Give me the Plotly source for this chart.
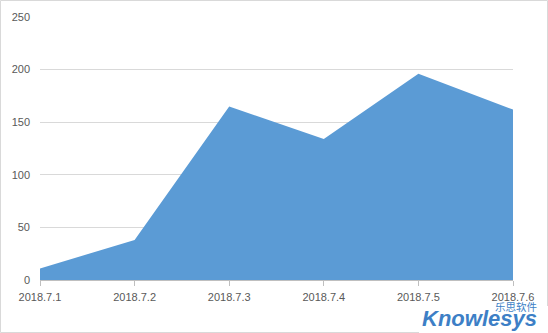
import plotly.graph_objects as go

categories = ["2018.7.1", "2018.7.2", "2018.7.3", "2018.7.4", "2018.7.5", "2018.7.6"]
values = [11, 38, 165, 134, 196, 162]
y_ticks = [0, 50, 100, 150, 200, 250]

W, H = 548, 333
ML, MR, MT, MB = 40, 35, 17, 53
PW, PH = W - ML - MR, H - MT - MB

def px_to_paper_x(px):
    return (px - ML) / PW

def px_to_paper_y(py):
    return (H - MB - py) / PH

fig = go.Figure()
fig.add_trace(go.Scatter(
    x=categories, y=values, mode="lines", fill="tozeroy",
    line=dict(color="#5B9BD5", width=0), fillcolor="#5B9BD5",
    hoverinfo="x+y", showlegend=False,
))

fig.update_layout(
    width=W, height=H,
    margin=dict(l=ML, r=MR, t=MT, b=MB),
    paper_bgcolor="white", plot_bgcolor="white",
    font=dict(family="Liberation Sans, Arial, sans-serif", size=11, color="#595959"),
    xaxis=dict(
        type="category", range=[0, len(categories) - 1],
        showgrid=False, showline=True, linecolor="#BFBFBF", linewidth=1,
        ticks="outside", ticklen=5, tickcolor="#BFBFBF",
        ticklabelstandoff=2,
        tickfont=dict(size=11, color="#595959"), zeroline=False,
    ),
    yaxis=dict(
        range=[0, 250], tickvals=y_ticks,
        showgrid=True, gridcolor="#D9D9D9", gridwidth=1,
        showline=False, zeroline=False, ticks="", ticklen=0,
        ticklabelstandoff=9,
        tickfont=dict(size=11, color="#595959"),
    ),
    shapes=[
        dict(type="rect", xref="paper", yref="paper",
             x0=px_to_paper_x(0.5), x1=px_to_paper_x(W - 0.5),
             y0=px_to_paper_y(H - 0.5), y1=px_to_paper_y(0.5),
             line=dict(color="#D9D9D9", width=1), fillcolor="rgba(0,0,0,0)", layer="below"),
        dict(type="rect", xref="paper", yref="paper",
             x0=px_to_paper_x(419), x1=px_to_paper_x(W + 2),
             y0=px_to_paper_y(H + 2), y1=px_to_paper_y(306),
             line=dict(width=0), fillcolor="white", layer="above"),
    ],
    annotations=[
        dict(text="<b><i>Knowlesys</i></b>", xref="paper", yref="paper",
             x=px_to_paper_x(538), y=px_to_paper_y(332), xanchor="right", yanchor="bottom",
             showarrow=False, borderpad=0,
             font=dict(family="Liberation Sans, Arial", size=22, color="#3D7FC6")),
        dict(text="乐思软件", xref="paper", yref="paper",
             x=px_to_paper_x(538), y=px_to_paper_y(306.5), xanchor="right", yanchor="middle",
             showarrow=False, borderpad=0,
             font=dict(family="Noto Sans CJK SC", size=10.5, color="#3D7FC6")),
    ],
)

fig.write_html("out.html")
